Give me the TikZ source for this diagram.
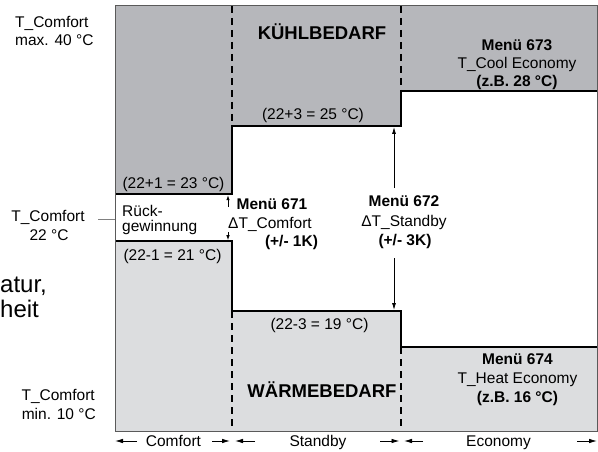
\documentclass[tikz,border=0pt]{standalone}
\usepackage{fontspec}
\setmainfont{Liberation Sans}
\usetikzlibrary{arrows.meta}
\definecolor{coolgray}{RGB}{182,183,187}
\definecolor{heatgray}{RGB}{220,221,223}
\definecolor{framegray}{RGB}{90,90,90}
\tikzset{
  txt/.style={inner sep=0pt, anchor=base, font=\fontsize{15.5}{18}\selectfont},
  btxt/.style={inner sep=0pt, anchor=base, font=\fontsize{15.5}{18}\selectfont\bfseries},
  bigtxt/.style={inner sep=0pt, anchor=base, font=\fontsize{18.5}{22}\selectfont\bfseries},
  hugetxt/.style={inner sep=0pt, anchor=base west, font=\fontsize{24}{28}\selectfont},
  bound/.style={line width=1.5pt, black},
  dashline/.style={line width=1.3pt, black, dash pattern=on 7pt off 5pt},
  framebox/.style={line width=1pt, framegray},
  menuarrow/.style={line width=0.8pt, -{Latex[length=7pt,width=4pt]}},
  smallarrow/.style={line width=0.8pt, -{Latex[length=5pt,width=3.5pt]}},
  axisarrow/.style={line width=0.8pt, -{Latex[length=8pt,width=4.5pt]}}
}
\begin{document}
\begin{tikzpicture}[x=1pt,y=-1pt]
\useasboundingbox (0,0) rectangle (598,452);
% regions
\fill[coolgray] (115,6) -- (597,6) -- (597,91) -- (401,91) -- (401,126) -- (232,126) -- (232,194) -- (115,194) -- cycle;
\fill[heatgray] (115,241) -- (232,241) -- (232,311) -- (401,311) -- (401,347) -- (597,347) -- (597,431) -- (115,431) -- cycle;
% dashed separators
\draw[dashline] (232,6) -- (232,126);
\draw[dashline] (232,311) -- (232,431);
\draw[dashline] (401,6) -- (401,91);
\draw[dashline] (401,347) -- (401,431);
% boundaries
\draw[bound] (115,194) -- (232,194) -- (232,126) -- (401,126) -- (401,91) -- (597,91);
\draw[bound] (115,241) -- (232,241) -- (232,311) -- (401,311) -- (401,347) -- (597,347);
\draw[framebox] (115,6) rectangle (597,431);

% left labels
\node[txt, anchor=base west] (tcmax1) at (15,27.5) {T\_Comfort};
\node[txt, anchor=base west] (tcmax2) at (15,46) {max. 40 °C};
\node[txt] (tc22a) at (48,222) {T\_Comfort};
\node[txt] (tc22b) at (49,240.5) {22 °C};
\node[txt, anchor=base east] (tcmin1) at (95,400) {T\_Comfort};
\node[txt, anchor=base east] (tcmin2) at (96,419) {min. 10 °C};
\node[hugetxt] (frag1) at (0,292) {atur,};
\node[hugetxt] (frag2) at (0,317) {heit};
\coordinate (l22a) at (98,219);
\coordinate (l22b) at (114.5,219);
\draw[line width=0.8pt, gray] (l22a) -- (l22b);

% cooling
\node[bigtxt] (kuehl) at (322,40) {KÜHLBEDARF};
\node[txt] (c25) at (313,120) {(22+3 = 25 °C)};
\node[btxt] (m673) at (517,51) {Menü 673};
\node[txt] (tce) at (517,68.5) {T\_Cool Economy};
\node[btxt] (z28) at (517,87) {(z.B. 28 °C)};
\node[txt] (c23) at (173.5,189) {(22+1 = 23 °C)};

% recovery band
\node[txt, anchor=base west] (rueck1) at (122,216.5) {Rück-};
\node[txt, anchor=base west] (rueck2) at (122,231) {gewinnung};

% heating
\node[txt] (h21) at (172.5,260) {(22-1 = 21 °C)};
\node[txt] (h19) at (319.5,329.5) {(22-3 = 19 °C)};
\node[bigtxt] (waerme) at (322,397) {WÄRMEBEDARF};
\node[btxt] (m674) at (517.5,364) {Menü 674};
\node[txt] (the) at (517.5,383) {T\_Heat Economy};
\node[btxt] (z16) at (517.5,402.5) {(z.B. 16 °C)};

% menu 671
\node[btxt] (m671) at (272,209) {Menü 671};
\node[txt] (dtc) at (270,229) {ΔT\_Comfort};
\node[btxt] (k1) at (291.5,246.5) {(+/- 1K)};
\coordinate (a1s) at (228,207);
\coordinate (a1e) at (228,195.2);
\coordinate (a2s) at (228,232);
\coordinate (a2e) at (228,240.2);
\draw[smallarrow] (a1s) -- (a1e);
\draw[smallarrow] (a2s) -- (a2e);

% menu 672
\node[btxt] (m672) at (404,207) {Menü 672};
\node[txt] (dts) at (404,226.5) {ΔT\_Standby};
\node[btxt] (k3) at (405,245) {(+/- 3K)};
\coordinate (b1s) at (394,188);
\coordinate (b1e) at (394,127);
\coordinate (b2s) at (394,258);
\coordinate (b2e) at (394,310);
\draw[menuarrow] (b1s) -- (b1e);
\draw[menuarrow] (b2s) -- (b2e);

% axis
\node[txt] (comfort) at (173.5,446.5) {Comfort};
\node[txt] (standby) at (318,446.5) {Standby};
\node[txt] (economy) at (498.5,446.5) {Economy};
\coordinate (x1t) at (137,441); \coordinate (x1h) at (115,441);
\coordinate (x2t) at (212,441); \coordinate (x2h) at (230,441);
\coordinate (x3t) at (255,441); \coordinate (x3h) at (235,441);
\coordinate (x4t) at (380,441); \coordinate (x4h) at (399.5,441);
\coordinate (x5t) at (423,441); \coordinate (x5h) at (404,441);
\coordinate (x6t) at (577,441); \coordinate (x6h) at (597,441);
\draw[axisarrow] (x1t) -- (x1h);
\draw[axisarrow] (x2t) -- (x2h);
\draw[axisarrow] (x3t) -- (x3h);
\draw[axisarrow] (x4t) -- (x4h);
\draw[axisarrow] (x5t) -- (x5h);
\draw[axisarrow] (x6t) -- (x6h);
\end{tikzpicture}
\end{document}
